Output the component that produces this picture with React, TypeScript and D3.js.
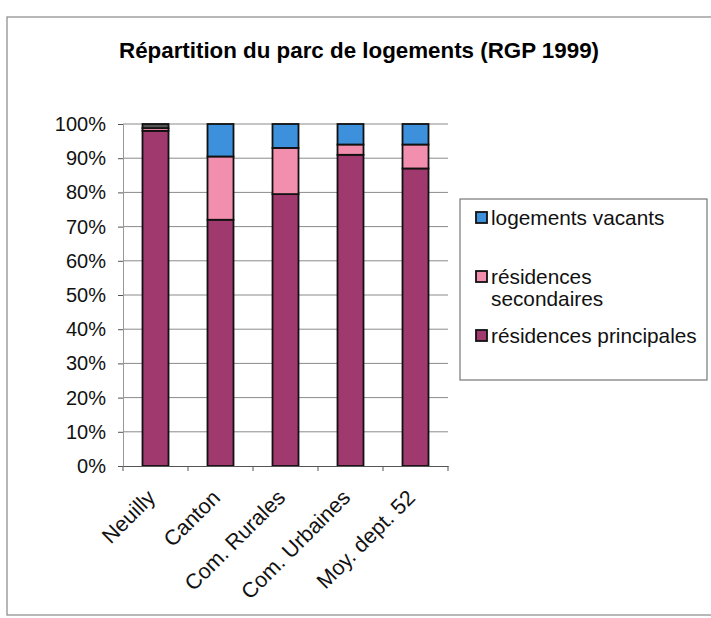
import React, { useEffect, useRef } from 'react';
import * as d3 from 'd3';

const categories = ['Neuilly', 'Canton', 'Com. Rurales', 'Com. Urbaines', 'Moy. dept. 52'];
const principales = [98, 72, 79.5, 91, 87];
const secondaires = [0.8, 18.5, 13.5, 3, 7];
const vacants = [1.2, 9.5, 7, 6, 6];
const seriesNames = ['résidences principales', 'résidences secondaires', 'logements vacants'];
const yTicks = [0, 10, 20, 30, 40, 50, 60, 70, 80, 90, 100];

const colors = ['#a03a6e', '#f28fae', '#3d90db'];
const font = 'Liberation Sans, Arial, sans-serif';

export default function App() {
  const ref = useRef<SVGSVGElement>(null);

  useEffect(() => {
    const width = 711;
    const height = 618;
    const svg = d3.select(ref.current).attr('width', width).attr('height', height);
    svg.selectAll('*').remove();

    // outer frame of the chart
    svg.append('rect')
      .attr('x', 7).attr('y', 17)
      .attr('width', 720).attr('height', 598)
      .attr('fill', '#fff')
      .attr('stroke', '#888')
      .attr('stroke-width', 1.2);

    svg.append('text')
      .attr('x', 359).attr('y', 58)
      .attr('text-anchor', 'middle')
      .attr('font-family', font)
      .attr('font-weight', 'bold')
      .attr('font-size', 22)
      .attr('textLength', 480)
      .attr('lengthAdjust', 'spacingAndGlyphs')
      .text('Répartition du parc de logements (RGP 1999)');

    const left = 123;
    const right = 448;
    const top = 124;
    const bottom = 466;

    const x = d3.scaleBand().domain(categories).range([left, right]).paddingInner(0.6).paddingOuter(0.3);
    const y = d3.scaleLinear().domain([0, 100]).range([bottom, top]);

    const g = svg.append('g');

    // gridlines
    g.selectAll('line.grid')
      .data(yTicks.filter((t) => t > 0))
      .enter().append('line')
      .attr('x1', left).attr('x2', right)
      .attr('y1', (d) => y(d)).attr('y2', (d) => y(d))
      .attr('stroke', '#8a8a8a')
      .attr('stroke-width', 1);

    // y axis
    const yAxis = g.append('g')
      .attr('transform', `translate(${left},0)`)
      .call(d3.axisLeft(y).tickValues(yTicks).tickFormat((d) => `${d}%`).tickSize(5).tickPadding(12));
    yAxis.select('.domain').attr('stroke', '#999');
    yAxis.selectAll('.tick line').attr('stroke', '#555');
    yAxis.selectAll('text')
      .attr('font-family', font)
      .attr('font-size', 20)
      .attr('fill', '#111');

    // stacked bars
    const rows = categories.map((c, i) => ({
      cat: c,
      principales: principales[i],
      secondaires: secondaires[i],
      vacants: vacants[i],
    }));
    const stack = d3.stack<any>().keys(['principales', 'secondaires', 'vacants'])(rows);

    stack.forEach((layer, li) => {
      g.selectAll(`rect.s${li}`)
        .data(layer)
        .enter().append('rect')
        .attr('x', (d: any) => x(d.data.cat)!)
        .attr('width', x.bandwidth())
        .attr('y', (d) => y(d[1]))
        .attr('height', (d) => y(d[0]) - y(d[1]))
        .attr('fill', (d: any, i) => (li === 2 && i === 0 ? '#555' : colors[li]))
        .attr('stroke', '#111')
        .attr('stroke-width', 1.8);
    });

    // x axis
    const xAxis = g.append('g')
      .attr('transform', `translate(0,${bottom})`)
      .call(d3.axisBottom(x).tickSize(0).tickFormat(() => ''));
    xAxis.select('.domain').attr('stroke', '#555');
    const step = x.step();
    g.selectAll('line.xt')
      .data(d3.range(categories.length + 1))
      .enter().append('line')
      .attr('x1', (i) => left + i * step).attr('x2', (i) => left + i * step)
      .attr('y1', bottom).attr('y2', bottom + 5)
      .attr('stroke', '#555');

    g.selectAll('text.xl')
      .data(categories)
      .enter().append('text')
      .attr('transform', (d) => `translate(${x(d)! + x.bandwidth() / 2 + 1},${bottom + 33}) rotate(-45)`)
      .attr('text-anchor', 'end')
      .attr('font-family', font)
      .attr('font-size', 21.5)
      .attr('fill', '#111')
      .text((d) => d);

    // legend
    const lg = svg.append('g');
    lg.append('rect')
      .attr('x', 460).attr('y', 199)
      .attr('width', 247).attr('height', 181)
      .attr('fill', '#fff')
      .attr('stroke', '#777')
      .attr('stroke-width', 1.2);

    const legendItems = [
      { name: seriesNames[2], lines: ['logements vacants'], color: colors[2], y: 218 },
      { name: seriesNames[1], lines: ['résidences', 'secondaires'], color: colors[1], y: 277 },
      { name: seriesNames[0], lines: ['résidences principales'], color: colors[0], y: 336 },
    ];
    legendItems.forEach((it) => {
      lg.append('rect')
        .attr('x', 476).attr('y', it.y - 6)
        .attr('width', 11).attr('height', 11)
        .attr('fill', it.color)
        .attr('stroke', '#111')
        .attr('stroke-width', 1.8);
      it.lines.forEach((ln, k) => {
        lg.append('text')
          .attr('x', 491).attr('y', it.y + 7 + k * 22)
          .attr('font-family', font)
          .attr('font-size', 20.8)
          .attr('fill', '#111')
          .text(ln);
      });
    });
  }, []);

  return <svg ref={ref} style={{ position: 'absolute', left: 0, top: 0 }} />;
}
